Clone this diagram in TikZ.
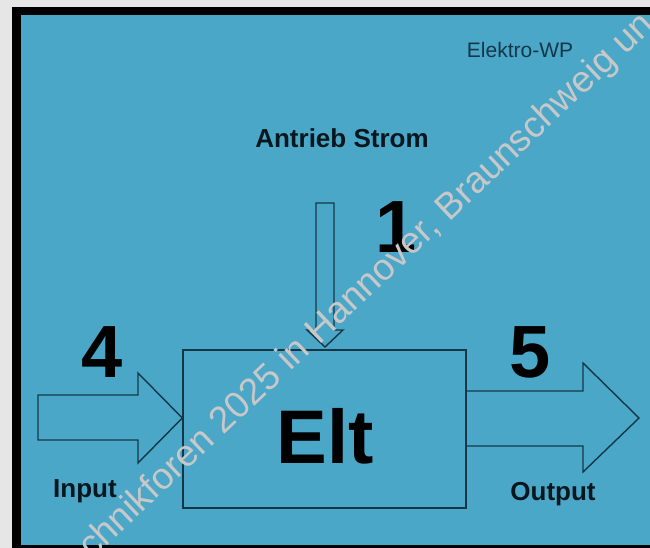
\documentclass[tikz,border=0pt]{standalone}
\usepackage{fontspec}
\setmainfont{Liberation Sans}
\usepackage{tikz}
\definecolor{wp-blue}{RGB}{74,167,200}
\definecolor{wp-line}{RGB}{20,55,72}
\definecolor{wp-text}{RGB}{8,22,30}
\definecolor{wp-grey}{RGB}{230,230,230}
\definecolor{wp-mark}{RGB}{200,200,200}

\begin{document}
\begin{tikzpicture}[x=1pt, y=-1pt,
    outline/.style={draw=wp-line, line width=1.4pt, line join=miter},
    lbl/.style={font=\fontsize{26}{28}\selectfont\bfseries, text=wp-text, anchor=base, inner sep=0pt},
    num/.style={font=\fontsize{74}{80}\selectfont\bfseries, text=black, anchor=base, inner sep=0pt}]
  \useasboundingbox (0,0) rectangle (650,548);
  \clip (0,0) rectangle (650,548);

  % frame
  \fill[wp-grey] (0,0) rectangle (650,548);
  \fill[black] (12,7) rectangle (660,560);
  \fill[wp-blue] (21,15) rectangle (660,545);

  % machine block
  \node[outline, minimum width=283pt, minimum height=158pt, inner sep=0pt] (elt) at (324.5,429) {};
  \node[num, font=\fontsize{76}{80}\selectfont\bfseries] (eltname) at (325,463) {Elt};

  % drive arrow
  \draw[outline] (316,203) -- (334,203) -- (334,330) -- (343,330) -- (325,347)
    -- (307,330) -- (316,330) -- cycle;

  % input arrow
  \draw[outline] (38,395) -- (138,395) -- (138,373) -- (elt.west |- 0,418)
    -- (138,463) -- (138,440) -- (38,440) -- cycle;

  % output arrow
  \draw[outline] (elt.east |- 0,391) -- (583,391) -- (583,363) -- (639,418)
    -- (583,472) -- (583,446) -- (elt.east |- 0,446);

  % labels
  \node[lbl, font=\fontsize{21}{24}\selectfont, text=wp-line] (title) at (520,58) {Elektro-WP};
  \node[lbl] (drive) at (342,148) {Antrieb Strom};
  \node[lbl] (input) at (85,497) {Input};
  \node[lbl] (output) at (553,500) {Output};
  \node[num] (n1) at (396,252) {1};
  \node[num] (n4) at (102,377) {4};
  \node[num] (n5) at (530,377) {5};

  % watermark
  \node[anchor=base west, rotate=43.4, text=wp-mark, font=\fontsize{37}{40}\selectfont,
    inner sep=0pt] (mark) at (92,560) {chnikforen 2025 in Hannover, Braunschweig un};
\end{tikzpicture}
\end{document}
